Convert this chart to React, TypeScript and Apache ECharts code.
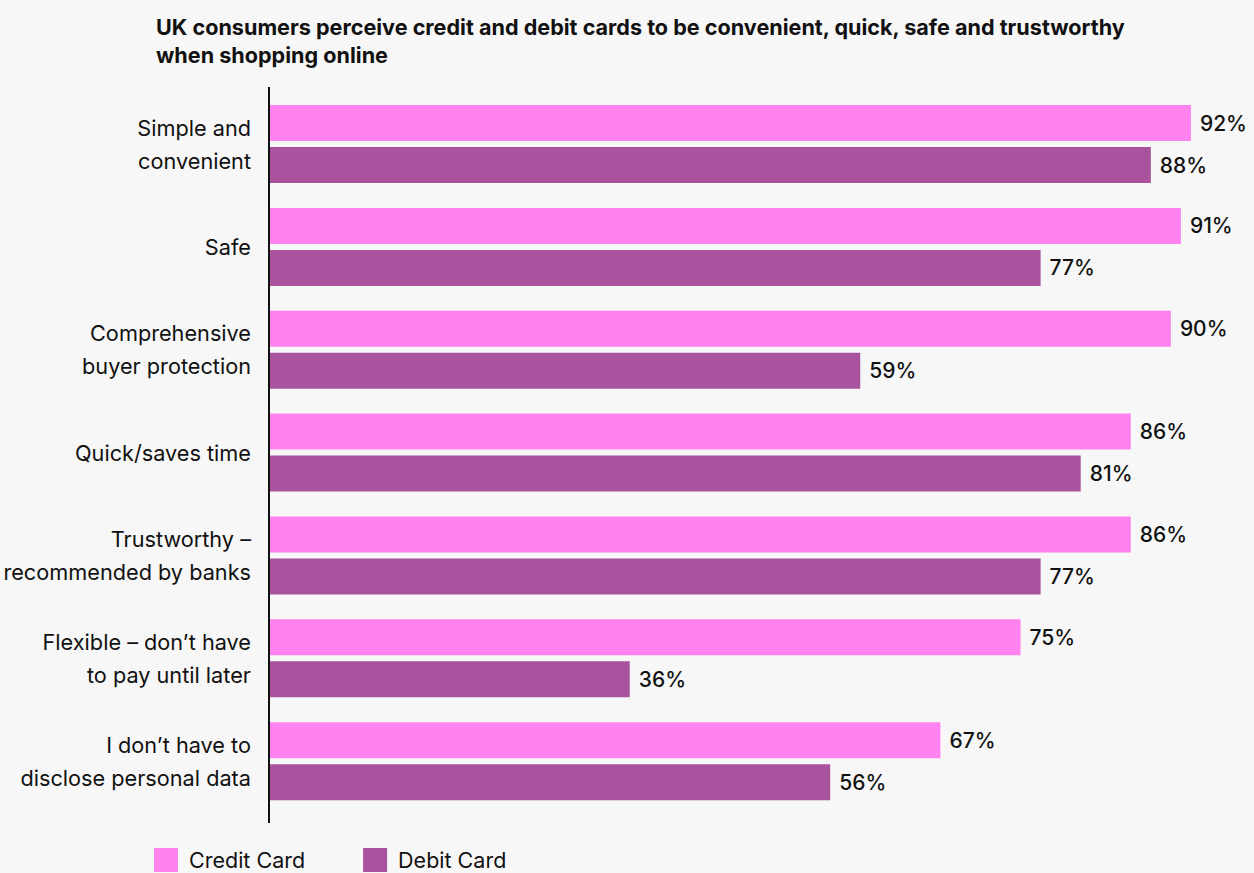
import React, { useEffect, useRef } from "react";
import * as echarts from "echarts";

const categories = [
  "Simple and\nconvenient",
  "Safe",
  "Comprehensive\nbuyer protection",
  "Quick/saves time",
  "Trustworthy –\nrecommended by banks",
  "Flexible – don’t have\nto pay until later",
  "I don’t have to\ndisclose personal data",
];
const creditCard = [92, 91, 90, 86, 86, 75, 67];
const debitCard = [88, 77, 59, 81, 77, 36, 56];
const seriesNames = ["Credit Card", "Debit Card"];
const titleText =
  "UK consumers perceive credit and debit cards to be convenient, quick, safe and trustworthy\nwhen shopping online";

const FONT = "Inter, 'Noto Sans', sans-serif";

export default function App() {
  const ref = useRef<HTMLDivElement>(null);
  useEffect(() => {
    if (!ref.current) return;
    const chart = echarts.init(ref.current, null, { renderer: "svg" });
    const label = {
      show: true,
      position: "right",
      distance: 9,
      formatter: "{c}%",
      fontFamily: FONT,
      fontSize: 21,
      fontWeight: 500,
      color: "#111",
    };
    chart.setOption({
      animation: false,
      backgroundColor: "#f7f7f7",
      textStyle: { fontFamily: FONT },
      title: {
        text: titleText,
        left: 151,
        top: 8,
        textStyle: {
          fontFamily: FONT,
          fontSize: 21.6,
          fontWeight: "bold",
          color: "#111",
          lineHeight: 28,
        },
      },
      legend: {
        data: seriesNames,
        left: 154,
        top: 848,
        padding: 0,
        itemWidth: 24,
        itemHeight: 24,
        itemGap: 58,
        icon: "rect",
        textStyle: {
          fontFamily: FONT,
          fontSize: 21.5,
          color: "#111",
          padding: [0, 0, 0, 6],
        },
      },
      grid: { left: 269, right: 33, top: 92.6, bottom: 60.4, containLabel: false },
      xAxis: {
        type: "value",
        min: 0,
        max: 95,
        show: false,
      },
      yAxis: {
        type: "category",
        data: categories,
        inverse: true,
        axisLine: { show: false },
        axisTick: { show: false },
        axisLabel: {
          margin: 18,
          fontFamily: FONT,
          fontSize: 21.7,
          lineHeight: 33,
          color: "#111",
          align: "right",
        },
      },
      graphic: [
        {
          type: "line",
          shape: { x1: 269, y1: 87, x2: 269, y2: 823 },
          style: { stroke: "#111", lineWidth: 2 },
          z: 100,
        },
      ],
      series: [
        {
          name: seriesNames[0],
          type: "bar",
          data: creditCard,
          barWidth: 36,
          barGap: "16.7%",
          itemStyle: { color: "#ff82ef" },
          label,
        },
        {
          name: seriesNames[1],
          type: "bar",
          data: debitCard,
          barWidth: 36,
          itemStyle: { color: "#a9529e" },
          label,
        },
      ],
    });
    return () => chart.dispose();
  }, []);
  return (
    <div
      ref={ref}
      style={{ position: "absolute", left: 0, top: 0, width: 1254, height: 873 }}
    />
  );
}
